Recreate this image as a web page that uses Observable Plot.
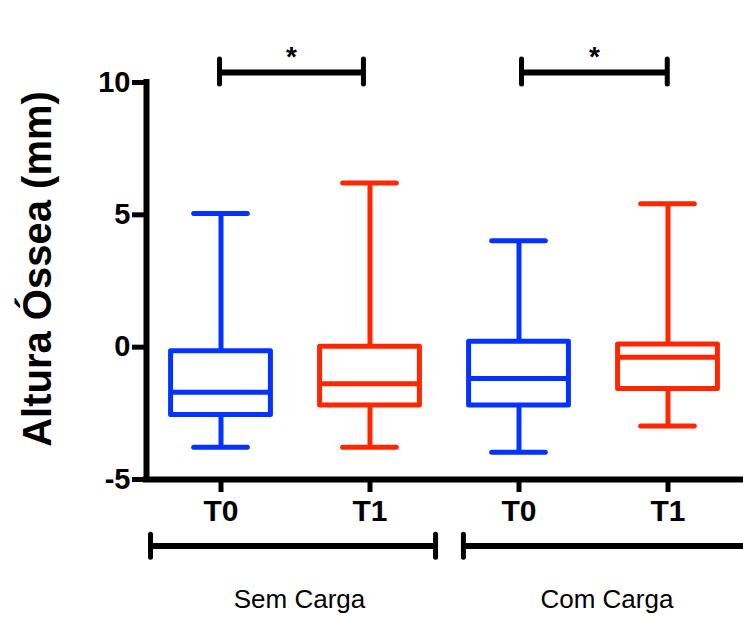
<!DOCTYPE html>
<html><head><meta charset="utf-8">
<script src="https://cdn.jsdelivr.net/npm/d3@7"></script>
<script src="https://cdn.jsdelivr.net/npm/@observablehq/plot@0.6"></script>
<style>body{margin:0;background:#fff} svg{display:block}</style>
</head><body><div id="chart"></div>
<script>
// ---- data ----
const groups = ["Sem Carga", "Com Carga"];
const times = ["T0", "T1", "T0", "T1"];
const groupOf = [0, 0, 1, 1];
const whiskerMax = [5.05, 6.2, 4.02, 5.42];
const q3 = [-0.15, 0.02, 0.2, 0.1];
const median = [-1.7, -1.38, -1.18, -0.38];
const q1 = [-2.56, -2.2, -2.2, -1.58];
const whiskerMin = [-3.78, -3.78, -3.97, -2.98];
const yTicks = [-5, 0, 5, 10];
const yLabel = "Altura Óssea (mm)";
const sigPairs = [[0, 1], [2, 3]];
const sigLabel = "*";

const rows = times.map((t, i) => ({
  i, time: t, group: groups[groupOf[i]],
  max: whiskerMax[i], q3: q3[i], median: median[i], q1: q1[i], min: whiskerMin[i]
}));
const groupRows = groups.map((g, k) => {
  const idx = groupOf.map((v, i) => v === k ? i : -1).filter(i => i >= 0);
  return {group: g, first: idx[0], last: idx[idx.length - 1]};
});

const BOX = 0.335, CAP = 0.18, SW = 5;
const font = "Liberation Sans, Arial, Helvetica, sans-serif";
const sigL = d => d[0] + (d[0] === 0 ? -0.01 : 0.017);
const sigR = d => d[1] + (d[0] === 0 ? -0.044 : -0.005);
const grpL = d => d.first - (d.first === 0 ? 0.473 : 0.373);

const chart = Plot.plot({
  width: 743, height: 617,
  marginLeft: 146, marginRight: 1, marginTop: 82, marginBottom: 138,
  style: {fontFamily: font, background: "#fff", color: "#000"},
  x: {domain: [-0.5, 3.5], axis: null},
  y: {domain: [-5, 10], axis: null},
  color: {domain: ["T0", "T1"], range: ["#0433ff", "#ff2600"]},
  marks: [
    // whiskers
    Plot.ruleX(rows, {x: "i", y1: "q3", y2: "max", stroke: "time", strokeWidth: SW}),
    Plot.ruleX(rows, {x: "i", y1: "min", y2: "q1", stroke: "time", strokeWidth: SW}),
    // caps
    Plot.ruleY(rows, {y: "max", x1: d => d.i - CAP, x2: d => d.i + CAP, stroke: "time", strokeWidth: SW, strokeLinecap: "round"}),
    Plot.ruleY(rows, {y: "min", x1: d => d.i - CAP, x2: d => d.i + CAP, stroke: "time", strokeWidth: SW, strokeLinecap: "round"}),
    // boxes
    Plot.rect(rows, {x1: d => d.i - BOX, x2: d => d.i + BOX, y1: "q1", y2: "q3", fill: "white", stroke: "time", strokeWidth: SW, strokeLinejoin: "round"}),
    Plot.ruleY(rows, {y: "median", x1: d => d.i - BOX, x2: d => d.i + BOX, stroke: "time", strokeWidth: SW}),
    // axes lines
    Plot.ruleX([-0.5], {y1: -5, y2: 10, strokeWidth: 6, strokeLinecap: "square"}),
    Plot.ruleY([-5], {x1: -0.5, x2: 3.6, strokeWidth: 6, strokeLinecap: "square"}),
    Plot.axisY({ticks: yTicks, tickFormat: d => String(d), tickSize: 14, tickPadding: 2, strokeWidth: 5, fontSize: 29, fontWeight: "bold", label: null}),
    Plot.axisX({ticks: [0, 1, 2, 3], tickFormat: i => times[i], tickSize: 13, tickPadding: 7, strokeWidth: 5, fontSize: 30, fontWeight: "bold", label: null}),
    // y label
    Plot.text([yLabel], {frameAnchor: "left", text: d => d, rotate: -90, dx: -108, dy: -12, fontSize: 40, fontWeight: "bold", textAnchor: "middle"}),
    // significance brackets
    Plot.ruleY(sigPairs, {y: 10.38, x1: sigL, x2: sigR, strokeWidth: 6}),
    Plot.ruleX(sigPairs, {x: sigL, y1: 9.92, y2: 10.87, strokeWidth: 5, strokeLinecap: "round"}),
    Plot.ruleX(sigPairs, {x: sigR, y1: 9.92, y2: 10.87, strokeWidth: 5, strokeLinecap: "round"}),
    Plot.text(sigPairs, {x: d => (sigL(d) + sigR(d)) / 2, y: 10.98, text: () => sigLabel, fontSize: 28, fontWeight: "bold"}),
    // group brackets
    Plot.ruleY(groupRows, {y: -7.51, x1: grpL, x2: d => d.last + (d.last === 1 ? 0.44 : 0.6), strokeWidth: 6}),
    Plot.ruleX(groupRows, {x: grpL, y1: -7.09, y2: -7.96, strokeWidth: 5, strokeLinecap: "round"}),
    Plot.ruleX(groupRows.filter(d => d.last === 1), {x: d => d.last + 0.44, y1: -7.09, y2: -7.96, strokeWidth: 5, strokeLinecap: "round"}),
    Plot.text(groupRows, {x: d => (d.first + d.last) / 2 + (d.first === 0 ? 0.027 : 0.09), y: -9.85, text: "group", fontSize: 26, lineAnchor: "bottom"})
  ]
});
document.getElementById("chart").append(chart);
</script>
</body></html>
